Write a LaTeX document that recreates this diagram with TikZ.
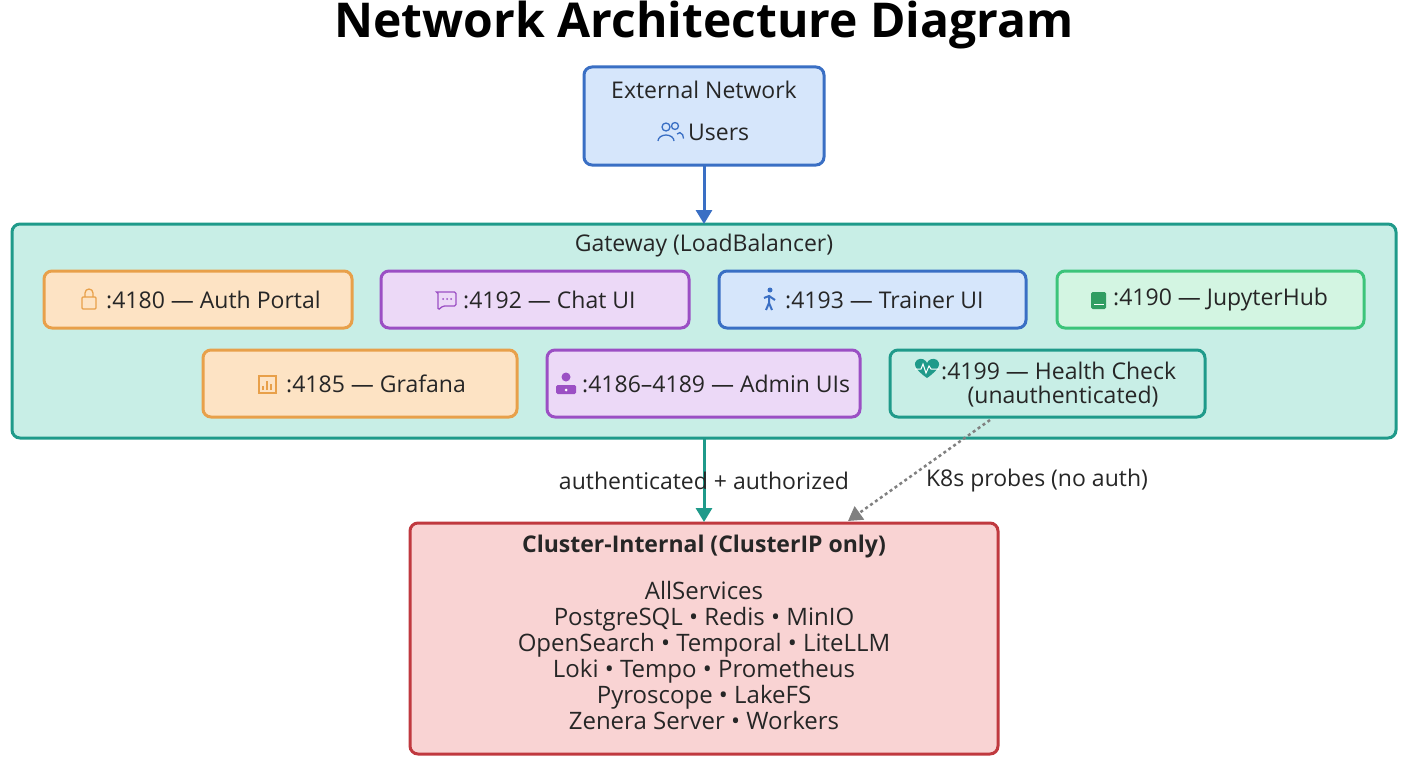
\documentclass[tikz,border=0pt]{standalone}
\usepackage{fontspec}
\setmainfont{Open Sans}
\usetikzlibrary{arrows.meta}
\definecolor{bluef}{HTML}{D6E6FB}\definecolor{blued}{HTML}{3A6FC4}
\definecolor{tealf}{HTML}{C8EEE6}\definecolor{teald}{HTML}{1F9A8A}
\definecolor{orf}{HTML}{FDE3C4}\definecolor{ord}{HTML}{E8A04A}
\definecolor{puf}{HTML}{ECD9F7}\definecolor{pud}{HTML}{9B4FC4}
\definecolor{grf}{HTML}{D3F5E2}\definecolor{grd}{HTML}{3CC47A}
\definecolor{ref}{HTML}{F9D3D3}\definecolor{red}{HTML}{C0393F}
\begin{document}
\begin{tikzpicture}[x=1pt,y=-1pt,
  box/.style={draw=#1,line width=3pt,rounded corners=8pt},
  lab/.style={font=\fontsize{23}{26}\selectfont,text=black!85,inner sep=0pt},
  ic/.style={line width=1.3pt}]
\useasboundingbox (0,0) rectangle (1408,768);
\fill[white] (0,0) rectangle (1408,768);
\node[font=\fontsize{48}{52}\selectfont\bfseries] (title) at (704,25) {Network Architecture Diagram};
% external
\draw[box=blued,fill=bluef] (584,67) rectangle (824,165);
\node[lab] (ext) at (704,90) {External Network};
\node[lab,anchor=west] (users) at (688,132) {Users};
\begin{scope}[blued,ic]
\draw (666,127) circle (4); \draw (658,141) arc (180:360:8 and 6);
\draw (675,126) circle (3.5); \draw (677,134) arc (230:360:4 and 6);
\end{scope}
\coordinate (extb) at (704,165);
% gateway
\draw[box=teald,fill=tealf] (12,224) rectangle (1396,438);
\node[lab] (gw) at (704,246) {Gateway (LoadBalancer)};
\coordinate (gwt) at (704,224);
\draw[-{Triangle[length=14pt,width=16pt]},blued,line width=3pt] (extb) -- (gwt);
% row1
\draw[box=ord,fill=orf] (44,271) rectangle (352,328);
\node[lab,anchor=west] (auth) at (106,300) {:4180 — Auth Portal};
\draw[ord,ic,rounded corners=1pt] (82,297) rectangle (96,309); \draw[ord,ic] (85,297) -- (85,293) arc (180:360:4) -- (93,297);
\draw[box=pud,fill=puf] (381,271) rectangle (689,328);
\node[lab,anchor=west] (chat) at (463,300) {:4192 — Chat UI};
\draw[pud,ic,rounded corners=1.5pt] (437,292) -- (456,292) -- (456,306) -- (443,306) -- (438,310) -- (438,292) -- cycle;
\foreach \x in {443,447,451}\fill[pud] (\x,299) circle (1);
\draw[box=blued,fill=bluef] (719,271) rectangle (1026,328);
\node[lab,anchor=west] (trainer) at (785,300) {:4193 — Trainer UI};
\begin{scope}[blued,ic,line width=2pt]
\fill (770,290) circle (2.5); \draw (769,295) -- (769,303) -- (766,310); \draw (769,303)--(772,310); \draw (764,298)--(769,296)--(775,300);
\end{scope}
\draw[box=grd,fill=grf] (1057,271) rectangle (1364,328);
\node[lab,anchor=west] (jup) at (1113,300) {:4190 — JupyterHub};
\fill[grd!80!black,rounded corners=1.5pt] (1091,292) rectangle (1106,309); \draw[white,line width=1pt] (1094,304)--(1104,304);
% row2
\draw[box=ord,fill=orf] (203,350) rectangle (517,417);
\node[lab,anchor=west] (graf) at (286,384) {:4185 — Grafana};
\draw[ord,ic] (259,376) rectangle (276,393); \draw[ord,line width=1.5pt] (263,390)--(263,386) (267,390)--(267,381) (271,390)--(271,384);
\draw[box=pud,fill=puf] (547,350) rectangle (860,417);
\node[lab,anchor=west] (admin) at (582,384) {:4186–4189 — Admin UIs};
\fill[pud] (566,377) circle (4.5); \fill[pud,rounded corners=1.5pt] (556,385) rectangle (576,394); \fill[white] (566,390) circle (1.5);
\draw[box=teald,fill=tealf] (890,350) rectangle (1205,417);
\node[lab,anchor=west] (health) at (941,371) {:4199 — Health Check};
\node[lab] (unauth) at (1063,397) {(unauthenticated)};
\fill[teald] (927,378) .. controls (914,369) and (913,363) .. (917,360) .. controls (921,357) and (926,360) .. (927,363) .. controls (928,360) and (933,357) .. (937,360) .. controls (941,363) and (940,369) .. cycle;
\draw[white,line width=1pt] (915,369)--(921,369)--(923,364)--(926,373)--(929,366)--(931,369)--(939,369);
\coordinate (hb) at (990,420);
% cluster
\draw[box=red,fill=ref] (410,523) rectangle (998,754);
\node[lab,font=\fontsize{23}{26}\selectfont\bfseries] (ct) at (704,547) {Cluster-Internal (ClusterIP only)};
\node[lab,align=center,font=\fontsize{24}{26}\selectfont] (svc) at (704,655) {AllServices\\PostgreSQL • Redis • MinIO\\OpenSearch • Temporal • LiteLLM\\Loki • Tempo • Prometheus\\Pyroscope • LakeFS\\Zenera Server • Workers};
\coordinate (gwb) at (704,438); \coordinate (ctt) at (704,522);
\coordinate (ctp) at (848,521);
\draw[-{Triangle[length=14pt,width=16pt]},teald,line width=3pt] (gwb) -- (ctt);
\draw[-{Triangle[length=14pt,width=16pt]},gray,line width=2.5pt,dash pattern=on 3pt off 3pt] (hb) -- (ctp);
\node[lab] (l1) at (704,481) {authenticated + authorized};
\node[lab] (l2) at (1037,481) {K8s probes (no auth)};
\end{tikzpicture}
\end{document}
